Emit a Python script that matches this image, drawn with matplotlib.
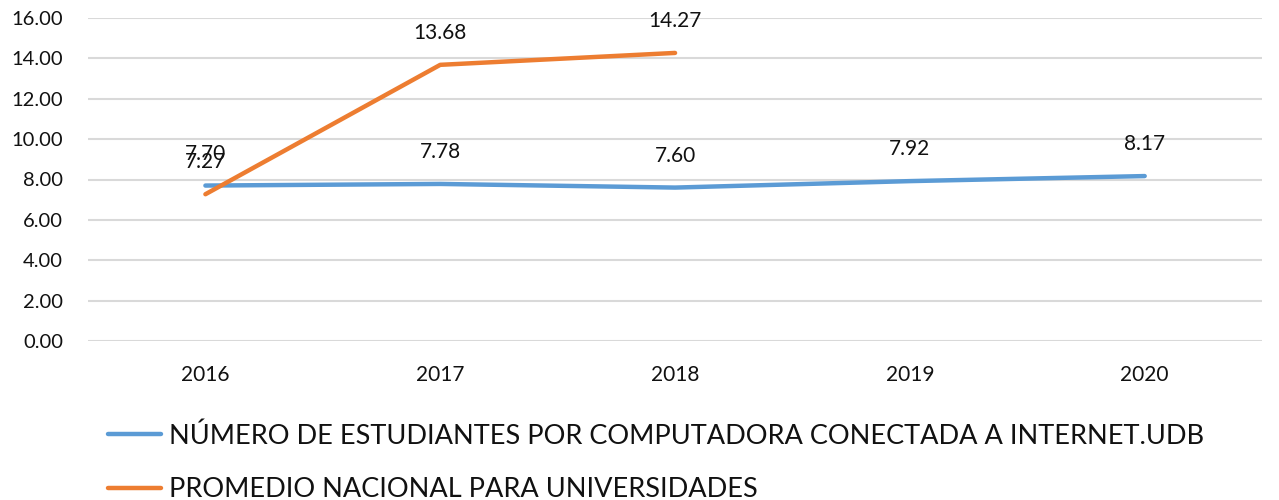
import matplotlib.pyplot as plt

years = ["2016", "2017", "2018", "2019", "2020"]
udb = [7.70, 7.78, 7.60, 7.92, 8.17]
nacional = [7.27, 13.68, 14.27]
label_udb = "NÚMERO DE ESTUDIANTES POR COMPUTADORA CONECTADA A INTERNET.UDB"
label_nac = "PROMEDIO NACIONAL PARA UNIVERSIDADES"

plt.rcParams['font.family'] = ['Lato', 'DejaVu Sans']

fig = plt.figure(figsize=(12.79, 5.0), dpi=100)
ax = fig.add_axes([0.0688, 0.318, 0.918, 0.646])

x_udb = list(range(len(udb)))
x_nac = list(range(len(nacional)))

ax.plot(x_udb, udb, color='#5B9BD5', linewidth=3.2, solid_capstyle='round', label=label_udb)
ax.plot(x_nac, nacional, color='#ED7D31', linewidth=3.2, solid_capstyle='round', label=label_nac)

# data labels above the points
for xi, v in zip(x_udb, udb):
    ax.annotate(f"{v:.2f}", (xi, v), xytext=(0, 23), textcoords='offset points',
                ha='center', va='center', fontsize=15, color='#111111')
for xi, v in zip(x_nac, nacional):
    ax.annotate(f"{v:.2f}", (xi, v), xytext=(0, 23), textcoords='offset points',
                ha='center', va='center', fontsize=15, color='#111111')

ax.set_xlim(-0.5, len(years) - 0.5)
ax.set_ylim(0, 16)
ax.set_yticks(range(0, 17, 2))
ax.set_yticklabels([f"{v:.2f}" for v in range(0, 17, 2)])
ax.set_xticks(x_udb)
ax.set_xticklabels(years)
ax.tick_params(axis='y', length=0, pad=18, labelsize=14.5, labelcolor='#111111')
ax.tick_params(axis='x', length=0, pad=17, labelsize=15, labelcolor='#111111')
ax.grid(axis='y', color='#D9D9D9', linewidth=1.5)
ax.set_axisbelow(True)
for s in ax.spines.values():
    s.set_visible(False)

fig.legend(loc='lower left', bbox_to_anchor=(0.065, -0.053), frameon=False, ncol=1,
           fontsize=19.5, handlelength=1.96, handletextpad=0.3, labelspacing=1.04,
           labelcolor='#111111')

fig.savefig("out.png", dpi=100)
